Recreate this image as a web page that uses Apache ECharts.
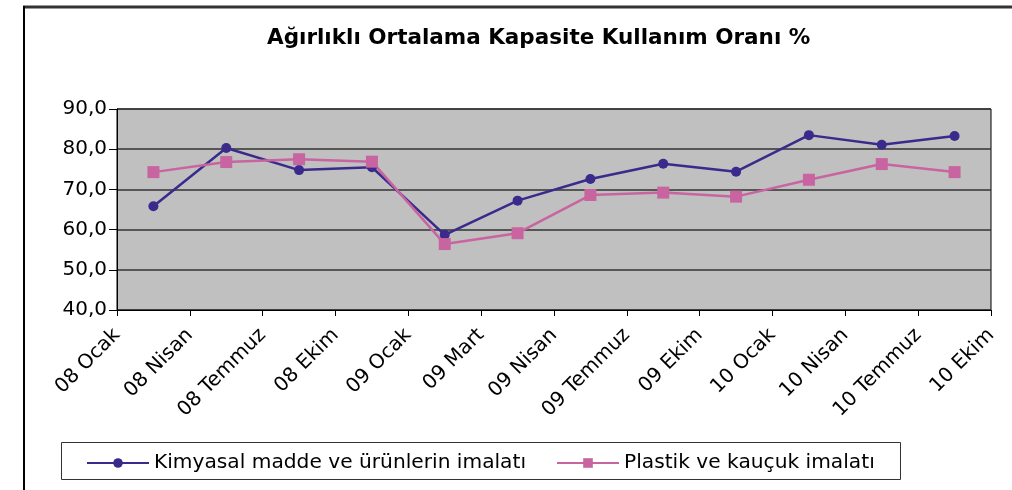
<!DOCTYPE html>
<html>
<head>
<meta charset="utf-8">
<script src="https://cdn.jsdelivr.net/npm/echarts@6/dist/echarts.min.js"></script>
<style>
  html, body { margin: 0; padding: 0; background: #fff; }
  #chart { width: 1012px; height: 490px; }
</style>
</head>
<body>
<div id="chart"></div>
<script>
// tick labels on the category axis (placed on the tick marks)
const tickLabels = ['08 Ocak', '08 Nisan', '08 Temmuz', '08 Ekim', '09 Ocak', '09 Mart', '09 Nisan',
  '09 Temmuz', '09 Ekim', '10 Ocak', '10 Nisan', '10 Temmuz', '10 Ekim']
// one point between each pair of ticks
const periods = tickLabels.slice(0, 12)
const kimyasal = [65.8, 80.3, 74.8, 75.5, 58.7, 67.2, 72.6, 76.4, 74.4, 83.5, 81.1, 83.3]
const plastik = [74.3, 76.8, 77.5, 76.9, 56.4, 59.1, 68.6, 69.2, 68.2, 72.4, 76.3, 74.3]

const seriesNames = ['Kimyasal madde ve ürünlerin imalatı', 'Plastik ve kauçuk imalatı']
const titleText = 'Ağırlıklı Ortalama Kapasite Kullanım Oranı %'

const chart = echarts.init(document.getElementById('chart'))

chart.setOption({
  animation: false,
  backgroundColor: '#fff',
  title: {
    text: titleText,
    left: 262,
    top: 22,
    textStyle: { fontFamily: 'DejaVu Sans', fontWeight: 'bold', fontSize: 21.5, color: '#000' }
  },
  grid: {
    left: 117,
    right: 21,
    top: 109,
    bottom: 180,
    show: true,
    backgroundColor: '#c0c0c0',
    borderColor: '#000',
    borderWidth: 1
  },
  legend: {
    left: 81,
    top: 448,
    itemWidth: 62,
    itemHeight: 12,
    itemGap: 30,
    textStyle: { fontFamily: 'DejaVu Sans', fontSize: 20.2, color: '#000' },
    data: seriesNames
  },
  xAxis: [
    {
      type: 'category',
      data: tickLabels,
      boundaryGap: false,
      axisLine: { lineStyle: { color: '#000', width: 1 } },
      axisTick: { show: true, length: 6, lineStyle: { color: '#000' } },
      axisLabel: {
        interval: 0,
        rotate: 45,
        margin: 22,
        fontFamily: 'DejaVu Sans',
        fontSize: 20,
        color: '#000'
      },
      splitLine: { show: false }
    },
    {
      type: 'category',
      data: periods,
      boundaryGap: true,
      show: false
    }
  ],
  yAxis: {
    type: 'value',
    min: 40,
    max: 90,
    interval: 10,
    axisLine: { show: true, lineStyle: { color: '#000', width: 1 } },
    axisTick: { show: true, length: 8, lineStyle: { color: '#000' } },
    axisLabel: {
      margin: 10,
      fontFamily: 'DejaVu Sans',
      fontSize: 20,
      color: '#000',
      formatter: v => v.toFixed(1).replace('.', ',')
    },
    splitLine: { show: true, lineStyle: { color: '#333', width: 1.5 } }
  },
  graphic: [
    // outer frame of the original picture
    { type: 'line', shape: { x1: 23, y1: 7, x2: 1012, y2: 7 }, style: { stroke: '#333', lineWidth: 3 } },
    { type: 'line', shape: { x1: 24, y1: 6, x2: 24, y2: 490 }, style: { stroke: '#000', lineWidth: 2 } },
    // legend box
    { type: 'rect', shape: { x: 61.5, y: 442.5, width: 839, height: 37 }, style: { fill: 'none', stroke: '#333', lineWidth: 1 } }
  ],
  series: [
    {
      name: seriesNames[0],
      type: 'line',
      xAxisIndex: 1,
      data: kimyasal,
      symbol: 'circle',
      symbolSize: 10,
      color: '#3a2a8c',
      lineStyle: { color: '#3a2a8c', width: 2.5 },
      itemStyle: { color: '#3a2a8c' }
    },
    {
      name: seriesNames[1],
      type: 'line',
      xAxisIndex: 1,
      data: plastik,
      symbol: 'rect',
      symbolSize: 12,
      color: '#c8649f',
      lineStyle: { color: '#c8649f', width: 2.5 },
      itemStyle: { color: '#c8649f' }
    }
  ]
})
</script>
</body>
</html>
